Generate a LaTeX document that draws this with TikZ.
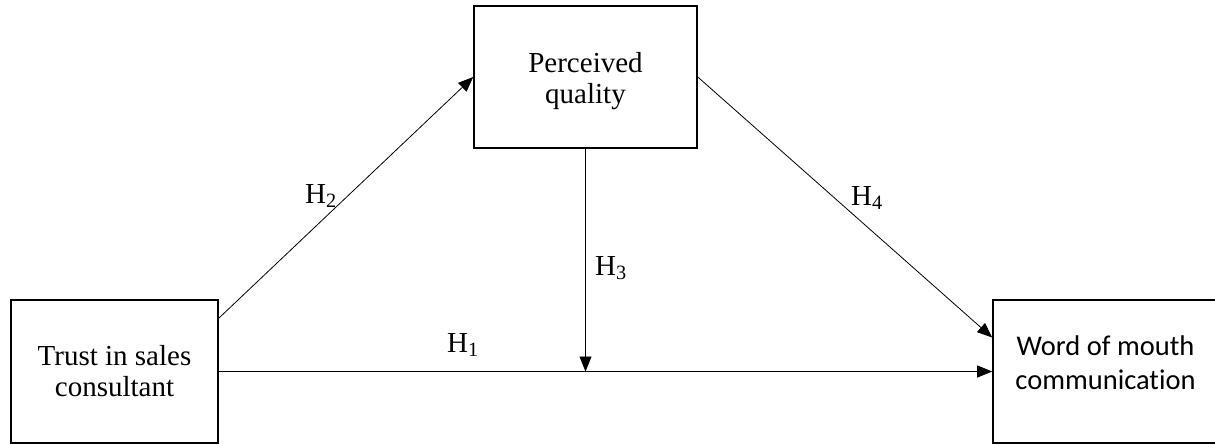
\documentclass[tikz,border=0pt]{standalone}
\usepackage{fontspec}
\setmainfont{Liberation Serif}
\newfontfamily\calibri[Ligatures=NoCommon]{Carlito}
\usetikzlibrary{arrows.meta}
\begin{document}
\begin{tikzpicture}[x=1pt,y=-1pt,line join=miter,>={Triangle[length=15pt,width=12pt]},font=\fontsize{29}{31}\selectfont]
    \tikzset{box/.style={draw,line width=1.6pt,align=center,inner sep=0pt}}
    \tikzset{link/.style={->,line width=0.8pt}}
    \tikzset{hyp/.style={anchor=base west,inner sep=0pt}}
    \useasboundingbox (0,0) rectangle (1215,444);
    % variables
    \node[box,minimum width=207pt,minimum height=143pt] (trust) at (114.5,371.5) {Trust in sales\\consultant};
    \node[box,minimum width=223pt,minimum height=142pt] (perc) at (585.5,77) {};
    \node[align=center] (perctext) at ([yshift=-4pt]perc.center) {Perceived\\quality};
    \node[box,minimum width=225pt,minimum height=143pt] (word) at (1105.5,371.5) {};
    \node[align=center,font=\calibri\fontsize{28.5}{34}\selectfont] (wordtext) at ([yshift=9pt]word.center) {Word of mouth\\communication};
    % paths
    \coordinate (h2s) at ([yshift=-19pt]trust.north east);
    \coordinate (h4e) at ([yshift=34pt]word.west);
    \coordinate (h3e) at (perc.south |- trust.east);
    \draw[link] (trust.east) -- (word.west);
    \draw[link] (h2s) -- (perc.west);
    \draw[link] (perc.east) -- (h4e);
    \draw[link] (perc.south) -- (h3e);
    % hypotheses
    \node[hyp] (h1) at (447,352) {H\textsubscript{1}};
    \node[hyp] (h2) at (305,203) {H\textsubscript{2}};
    \node[hyp] (h3) at (595,275) {H\textsubscript{3}};
    \node[hyp] (h4) at (851,205) {H\textsubscript{4}};
\end{tikzpicture}
\end{document}
